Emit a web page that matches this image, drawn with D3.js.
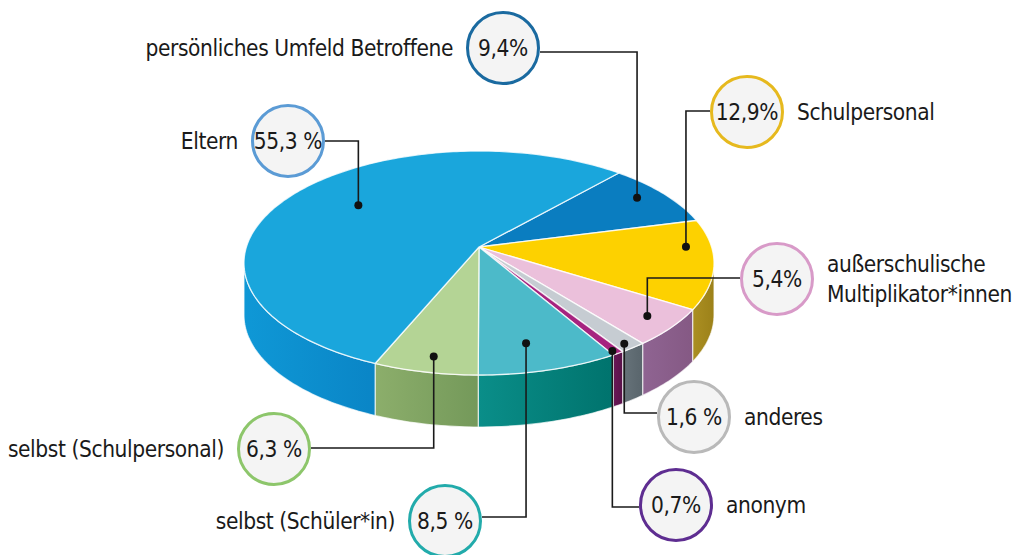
<!DOCTYPE html>
<meta charset="utf-8">
<style>
body { margin: 0; background: #fff; }
svg { display: block; }
.label, .pct {
  font-family: "Liberation Sans Narrow", "DejaVu Sans Condensed", "Open Sans", sans-serif;
  fill: #1a1a1a;
  letter-spacing: -0.4px;
}
.label { font-size: 22.5px; }
.pct { font-size: 22.5px; text-anchor: middle; }
</style>
<body>
<svg width="1025" height="555"></svg>
<script src="https://d3js.org/d3.v7.min.js"></script>
<script>
// data, clockwise starting at the top right
var categories = ["persönliches Umfeld Betroffene", "Schulpersonal", "außerschulische\nMultiplikator*innen",
                  "anderes", "anonym", "selbst (Schüler*in)", "selbst (Schulpersonal)", "Eltern"];
var shares = [9.4, 12.9, 5.4, 1.6, 0.7, 8.5, 6.3, 55.3];
var valueLabels = ["9,4%", "12,9%", "5,4%", "1,6 %", "0,7%", "8,5 %", "6,3 %", "55,3 %"];

// styles
var topColors  = ["#0a7dc0", "#fdd100", "#ebc0db", "#c6ccd2", "#a6237f", "#4cbac9", "#b4d495", "#1aa6dc"];
var sideLight  = ["#0a6aa5", "#ab8f22", "#8f6492", "#67737a", "#6a1756", "#0a8e89", "#8cae6b", "#0f98d6"];
var sideDark   = ["#085a8c", "#9c8119", "#855984", "#59656c", "#58124a", "#00736d", "#74995a", "#0a85c6"];
var ringColors = ["#1a6aa0", "#e6b91e", "#d89ac8", "#b9b9b9", "#5e2d91", "#22abab", "#8dc66b", "#5b9bd5"];

// callout layout: circle centre, label side, leader y, dot position inside the slice (t along angle, r radial)
var callouts = [
  {cx: 503, cy: 48,  side: "left",  ly: 52,  t: 0.44, r: 0.87},
  {cx: 747, cy: 112, side: "right", ly: 111, t: 0.31, r: 0.89},
  {cx: 777, cy: 279, side: "right", ly: 278, t: 0.47, r: 0.88},
  {cx: 694, cy: 417, side: "right", ly: 413, t: 0.59, r: 0.96},
  {cx: 676, cy: 505, side: "right", ly: 507, t: 0.69, r: 0.975},
  {cx: 445, cy: 521, side: "left",  ly: 517, t: 0.57, r: 0.80},
  {cx: 274, cy: 449, side: "left",  ly: 448, t: 0.48, r: 0.89},
  {cx: 288, cy: 141, side: "left",  ly: 141, t: 0.52, r: 0.68}
];

var svg = d3.select("svg");
var R = 37;

// perspective disk
var cx = 479, apexY = 247, A = 232.6, B = 109.7, g = 0.143, depth = 52;
function project(r, phi, dz) {
  var u = r * Math.cos(phi), v = r * Math.sin(phi), w = 1 - g * v;
  return [cx + A * u / w, apexY + B * v / w + (dz || 0)];
}
function arcPts(a0, a1, dz) {
  var n = Math.max(2, Math.ceil(Math.abs(a1 - a0) / (Math.PI / 180))), pts = [];
  for (var i = 0; i <= n; i++) pts.push(project(1, a0 + (a1 - a0) * i / n, dz));
  return pts;
}

var start = 41.7 * Math.PI / 180;
var pie = d3.pie().sort(null).startAngle(start).endAngle(start + 2 * Math.PI);
var arcs = pie(shares).map(function(d, i) {
  return {i: i, a0: d.startAngle - Math.PI / 2, a1: d.endAngle - Math.PI / 2};
});

var line = d3.line();
var defs = svg.append("defs");
var lo = Math.asin(g), hi = Math.PI - Math.asin(g);

// side walls
arcs.forEach(function(d) {
  var s = Math.max(d.a0, lo), e = Math.min(d.a1, hi);
  if (e <= s) return;
  var top = arcPts(s, e, 0), bot = arcPts(e, s, depth);
  var xs = top.map(function(p) { return p[0]; });
  var grad = defs.append("linearGradient").attr("id", "side" + d.i)
      .attr("gradientUnits", "userSpaceOnUse")
      .attr("x1", d3.min(xs)).attr("x2", d3.max(xs)).attr("y1", 0).attr("y2", 0);
  grad.append("stop").attr("offset", 0).attr("stop-color", sideLight[d.i]);
  grad.append("stop").attr("offset", 1).attr("stop-color", sideDark[d.i]);
  svg.append("path")
      .attr("d", line(top.concat(bot)) + "Z")
      .attr("fill", "url(#side" + d.i + ")")
      .attr("stroke", "#fff").attr("stroke-opacity", 0.7).attr("stroke-width", 1.2);
});

// top faces
svg.selectAll("path.top")
  .data(arcs)
  .enter().append("path")
    .attr("class", "top")
    .attr("d", function(d) { return line([[cx, apexY]].concat(arcPts(d.a0, d.a1, 0))) + "Z"; })
    .attr("fill", function(d) { return topColors[d.i]; })
    .attr("stroke", "#fff").attr("stroke-opacity", 0.8).attr("stroke-width", 1.3)
    .attr("stroke-linejoin", "round");

// callouts
arcs.forEach(function(d) {
  var c = callouts[d.i];
  var dot = project(c.r, d.a0 + (d.a1 - d.a0) * c.t, 0);
  var edge = c.cx < dot[0] ? c.cx + R : c.cx - R;
  svg.append("path")
      .attr("d", "M" + edge + "," + c.ly + "H" + dot[0] + "V" + dot[1])
      .attr("fill", "none").attr("stroke", "#1a1a1a").attr("stroke-width", 1.6);
  svg.append("circle").attr("cx", dot[0]).attr("cy", dot[1]).attr("r", 4).attr("fill", "#111");

  svg.append("circle").attr("cx", c.cx).attr("cy", c.cy).attr("r", R - 1.5)
      .attr("fill", "#f4f4f4").attr("stroke", ringColors[d.i]).attr("stroke-width", 3);
  svg.append("text").attr("class", "pct")
      .attr("x", c.cx).attr("y", c.cy).attr("dy", "0.36em")
      .text(valueLabels[d.i]);

  var lines = categories[d.i].split("\n");
  var tx = c.side === "left" ? c.cx - R - 13 : c.cx + R + 13;
  var t = svg.append("text").attr("class", "label")
      .attr("text-anchor", c.side === "left" ? "end" : "start")
      .attr("x", tx).attr("y", c.cy - (lines.length - 1) * 15);
  lines.forEach(function(l, k) {
    t.append("tspan").attr("x", tx).attr("dy", k === 0 ? "0.36em" : 30).text(l);
  });
});
</script>
</body>
